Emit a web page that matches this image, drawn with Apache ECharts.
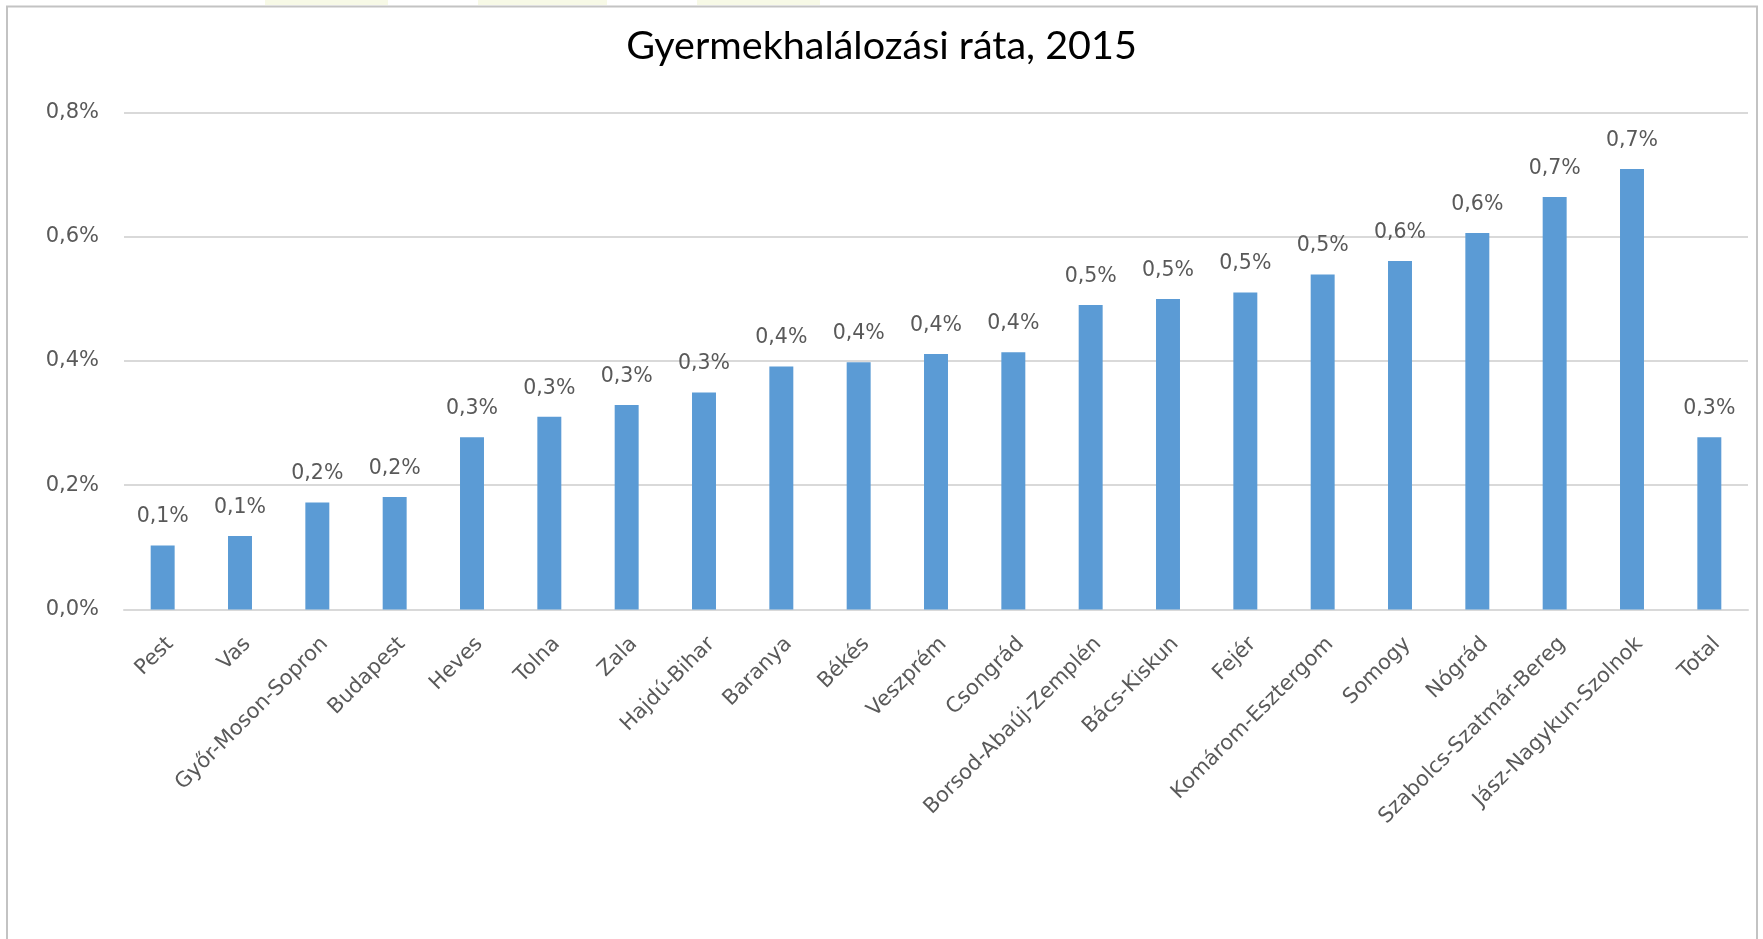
<!DOCTYPE html>
<html>
<head>
<meta charset="utf-8">
<script src="https://cdn.jsdelivr.net/npm/echarts@6/dist/echarts.min.js"></script>
<style>
html,body{margin:0;padding:0;background:#fff;}
#chart{width:1763px;height:939px;}
</style>
</head>
<body>
<div id="chart"></div>
<script>
var titleText = 'Gyermekhalálozási ráta, 2015';
var categories = ['Pest','Vas','Győr-Moson-Sopron','Budapest','Heves','Tolna','Zala','Hajdú-Bihar','Baranya','Békés','Veszprém','Csongrád','Borsod-Abaúj-Zemplén','Bács-Kiskun','Fejér','Komárom-Esztergom','Somogy','Nógrád','Szabolcs-Szatmár-Bereg','Jász-Nagykun-Szolnok','Total'];
var values = [0.103,0.118,0.172,0.181,0.277,0.310,0.329,0.349,0.391,0.398,0.411,0.414,0.490,0.4995,0.510,0.539,0.561,0.606,0.664,0.709,0.277];
var yTicks = {min:0, max:0.8, interval:0.2};

function pct(v){ return v.toFixed(1).replace('.', ',') + '%'; }

var chart = echarts.init(document.getElementById('chart'), null, {renderer:'canvas'});
var FONT = 'DejaVu Sans';
chart.setOption({
  animation:false,
  backgroundColor:'#ffffff',
  title:{
    text:titleText,
    left:'center',
    top:18,
    textStyle:{fontFamily:'Lato',fontSize:39.5,fontWeight:'normal',color:'#000000',lineHeight:46}
  },
  graphic:[
    {type:'rect',silent:true,shape:{x:265,y:0,width:123,height:5},style:{fill:'#f7f9e6'}},
    {type:'rect',silent:true,shape:{x:478,y:0,width:129,height:5},style:{fill:'#f7f9e6'}},
    {type:'rect',silent:true,shape:{x:697,y:0,width:123,height:5},style:{fill:'#f7f9e6'}},
    {type:'rect',silent:true,shape:{x:7,y:6.5,width:1750,height:1000},style:{fill:'none',stroke:'#c3c3c3',lineWidth:2}}
  ],
  grid:{left:124,right:15,top:112.4,bottom:329.6,containLabel:false,outerBoundsMode:'none'},
  xAxis:{
    type:'category',
    data:categories,
    axisLine:{show:true,lineStyle:{color:'#d9d9d9',width:2}},
    axisTick:{show:false},
    axisLabel:{rotate:45,interval:0,margin:24,verticalAlign:'top',fontFamily:FONT,fontSize:21,color:'#595959'}
  },
  yAxis:{
    type:'value',
    min:yTicks.min,max:yTicks.max,interval:yTicks.interval,
    axisLine:{show:false},
    axisTick:{show:false},
    splitLine:{lineStyle:{color:'#d9d9d9',width:2}},
    axisLabel:{margin:25,fontFamily:FONT,fontSize:21,color:'#595959',formatter:function(v){return pct(v);}}
  },
  series:[{
    type:'bar',
    data:values,
    barWidth:'31%',
    itemStyle:{color:'#5b9bd5'},
    label:{show:true,position:'top',distance:18,fontFamily:FONT,fontSize:20.5,color:'#595959',formatter:function(p){return pct(p.value);}}
  }]
});
</script>
</body>
</html>
